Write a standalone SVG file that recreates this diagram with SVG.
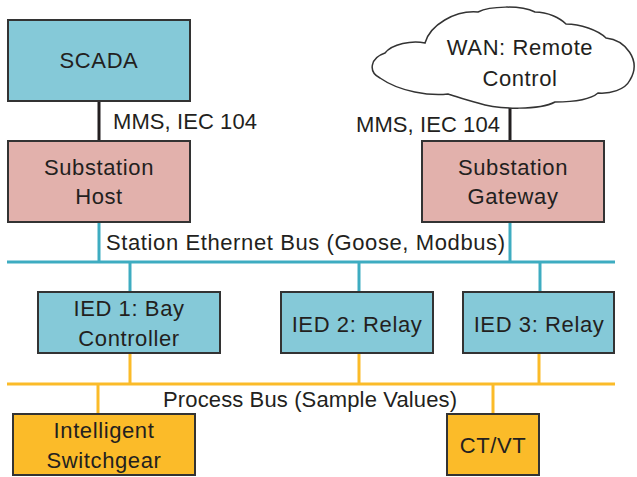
<svg xmlns="http://www.w3.org/2000/svg" width="637" height="477" viewBox="0 0 637 477">
<style>
text{font-family:"Liberation Sans",Arial,sans-serif;font-size:22px;fill:#231f20;text-anchor:middle;letter-spacing:0.6px}
.lbl{text-anchor:start;letter-spacing:0}
.box{stroke:#333;stroke-width:2}
.teal{fill:#85c9d8}
.pink{fill:#e2b1ac}
.orange{fill:#fbbb29}
.blk{stroke:#231f20;stroke-width:3;fill:none}
.blue{stroke:#3eacc1;stroke-width:3;fill:none}
.org{stroke:#fbbb29;stroke-width:3;fill:none}
</style>
<rect width="637" height="477" fill="#fff"/>
<g id="connectors">
<line class="blk" x1="99" y1="101" x2="99" y2="141"/>
<line class="blk" x1="510" y1="106" x2="510" y2="141"/>
<line class="blue" x1="99" y1="222" x2="99" y2="262"/>
<line class="blue" x1="510" y1="222" x2="510" y2="262"/>
<line class="blue" x1="7" y1="262" x2="615" y2="262"/>
<line class="blue" x1="130" y1="262" x2="130" y2="292"/>
<line class="blue" x1="359" y1="262" x2="359" y2="292"/>
<line class="blue" x1="540" y1="262" x2="540" y2="292"/>
<line class="org" x1="7" y1="384" x2="615" y2="384"/>
<line class="org" x1="130" y1="353" x2="130" y2="384"/>
<line class="org" x1="359" y1="353" x2="359" y2="384"/>
<line class="org" x1="539" y1="353" x2="539" y2="384"/>
<line class="org" x1="98" y1="384" x2="98" y2="414"/>
<line class="org" x1="493" y1="384" x2="493" y2="414"/>
<text class="lbl" x="113" y="129" textLength="144" lengthAdjust="spacing">MMS, IEC 104</text>
<text class="lbl" x="356" y="132" textLength="144" lengthAdjust="spacing">MMS, IEC 104</text>
<text class="lbl" x="106" y="250" textLength="399" lengthAdjust="spacing">Station Ethernet Bus (Goose, Modbus)</text>
<text class="lbl" x="163" y="407" textLength="294" lengthAdjust="spacing">Process Bus (Sample Values)</text>
</g>
<g id="scada">
<rect class="box teal" x="8" y="20" width="182" height="81"/>
<text x="99" y="68">SCADA</text>
</g>
<g id="wan">
<path d="M380 78 C368 72 370 58 385 53 C392 44 412 40 425 43 C430 25 455 10 478 12 C490 6 520 5 535 12 C548 12 560 18 566 24 C580 24 598 30 606 38 C625 40 642 60 630 80 C625 90 610 94 598 93 C590 100 570 102 555 102 C540 110 500 110 478 103 C465 100 455 96 448 94 C430 96 400 92 380 78 Z" fill="#fff" stroke="#333" stroke-width="1.5"/>
<text x="520" y="55">WAN: Remote</text>
<text x="520" y="86">Control</text>
</g>
<g id="host">
<rect class="box pink" x="8" y="141" width="182" height="81"/>
<text x="99" y="175">Substation</text>
<text x="99" y="204">Host</text>
</g>
<g id="gateway">
<rect class="box pink" x="422" y="141" width="182" height="81"/>
<text x="513" y="175">Substation</text>
<text x="513" y="204">Gateway</text>
</g>
<g id="ied1">
<rect class="box teal" x="38" y="292" width="182" height="61"/>
<text x="129" y="316">IED 1: Bay</text>
<text x="129" y="346">Controller</text>
</g>
<g id="ied2">
<rect class="box teal" x="281" y="292" width="152" height="61"/>
<text x="357" y="332">IED 2: Relay</text>
</g>
<g id="ied3">
<rect class="box teal" x="463" y="292" width="151" height="61"/>
<text x="539" y="332">IED 3: Relay</text>
</g>
<g id="switchgear">
<rect class="box orange" x="13" y="414" width="182" height="61"/>
<text x="104" y="438">Intelligent</text>
<text x="104" y="468">Switchgear</text>
</g>
<g id="ctvt">
<rect class="box orange" x="447" y="414" width="92" height="61"/>
<text x="493" y="453">CT/VT</text>
</g>
</svg>
